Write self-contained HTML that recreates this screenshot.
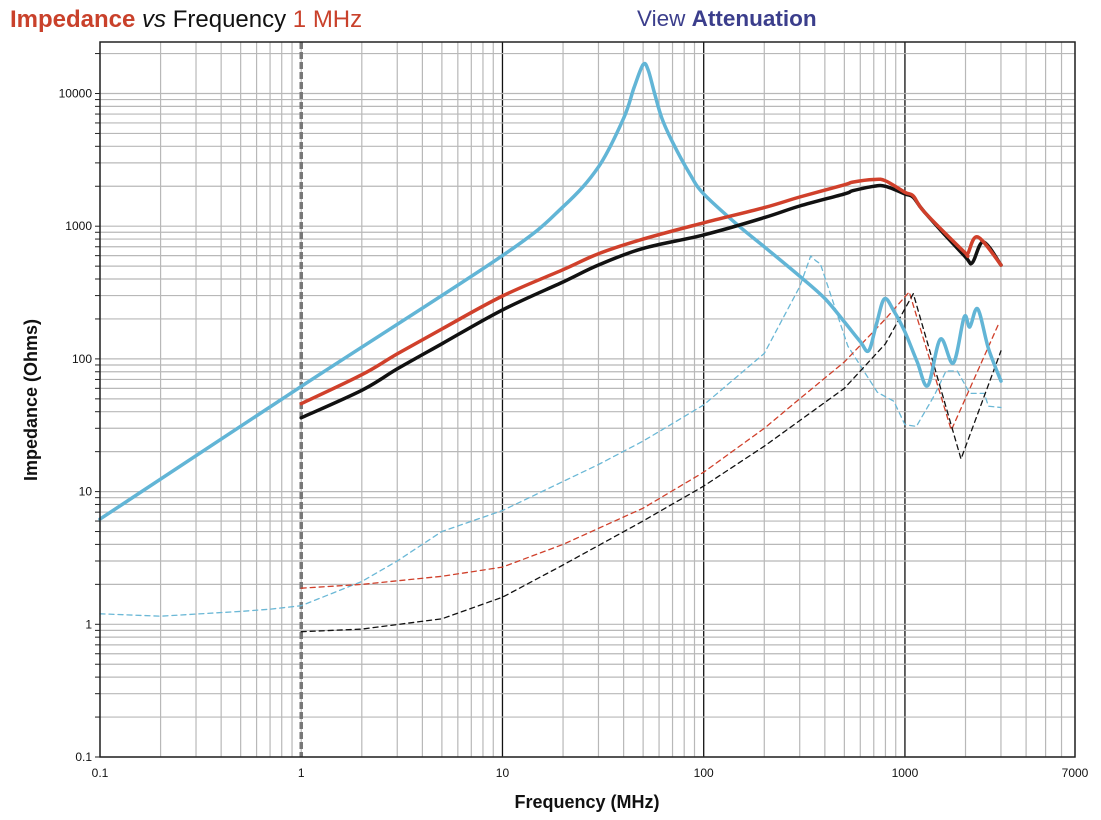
<!DOCTYPE html>
<html><head><meta charset="utf-8"><style>
body{margin:0;background:#fff;width:1101px;height:820px;overflow:hidden;font-family:"Liberation Sans",sans-serif}
svg{position:absolute;left:0;top:0}
</style></head><body>
<svg id="chart" width="1101" height="820">
<text x="10" y="27" font-size="24"><tspan fill="#c9412b" font-weight="bold">Impedance</tspan><tspan fill="#111" font-style="italic"> vs</tspan><tspan fill="#111"> Frequency </tspan><tspan fill="#c9412b">1 MHz</tspan></text>
<text x="637" y="26" font-size="22.5" fill="#3b3e8c">View <tspan font-weight="bold">Attenuation</tspan></text>
<g id="grid"></g>
<g id="series"></g>
<rect x="100" y="42" width="975" height="715" fill="none" stroke="#222" stroke-width="1.5"/>
<g id="labels" font-size="12" fill="#111"></g>
<text x="587" y="808" font-size="18" font-weight="bold" text-anchor="middle" fill="#111">Frequency (MHz)</text>
<text transform="translate(37,400) rotate(-90)" font-size="18" font-weight="bold" text-anchor="middle" fill="#111">Impedance (Ohms)</text>
</svg>
<script>
const xTicks=[0.1,1,10,100,1000,7000];
const xTickLabels=["0.1","1","10","100","1000","7000"];
const yTicks=[0.1,1,10,100,1000,10000];
const yTickLabels=["0.1","1","10","100","1000","10000"];
const blueSolidF=[0.1,1,10,20,30,40,45,50,53,57,62,70,85,100,150,200,300,400,500,600,660,720,790,880,1000,1150,1300,1500,1740,1970,2100,2300,2600,3000];
const blueSolidV=[6.2,62,600,1400,2800,6500,11000,16500,15000,10000,6500,4300,2500,1750,1000,700,420,285,190,135,115,180,283,230,160,95,63,141,93,207,174,238,120,68];
const redSolidF=[1,2,3,5,10,20,30,50,100,200,300,500,550,700,800,1000,1100,1250,1970,2050,2300,3000];
const redSolidV=[46,76,109,168,298,470,620,800,1060,1380,1660,2050,2150,2250,2200,1800,1690,1280,640,620,830,510];
const blackSolidF=[1,2,3,5,10,20,30,50,100,200,300,500,550,700,800,1000,1100,1250,1970,2160,2450,3000];
const blackSolidV=[36,58,84,130,234,380,510,680,860,1160,1420,1750,1850,2000,2000,1750,1650,1280,600,530,760,510];
const blueDashF=[0.1,0.2,0.5,0.7,1,2,3,5,10,30,50,100,200,300,340,360,380,520,730,880,1000,1140,1400,1600,1820,2100,2480,2600,3000];
const blueDashV=[1.2,1.15,1.25,1.3,1.38,2.1,3,5,7.2,16,24,45,110,350,596,550,520,125,56,48,32,31,53,81,81,55,55,44,43];
const redDashF=[1,2,5,10,20,50,100,200,300,500,800,1050,1700,2950];
const redDashV=[1.87,2,2.3,2.7,4,7.5,14,30,50,95,200,320,29,190];
const blackDashF=[1,2,5,10,20,50,100,200,500,800,1100,1900,3000];
const blackDashV=[0.88,0.92,1.1,1.6,2.8,6,11,22,60,130,310,17.6,115];

const X0=100,X1=1075,Y0=42,Y1=757;
const lx0=Math.log10(0.1),lx1=Math.log10(7000);
const DEC=(X1-X0)/(lx1-lx0);
function xs(f){return X0+(Math.log10(f)-lx0)*DEC;}
const YDEC=132.7;
function ys(v){return 757-(Math.log10(v)+1)*YDEC;}
const NS="http://www.w3.org/2000/svg";
function mk(tag,attrs,parent){const e=document.createElementNS(NS,tag);for(const k in attrs)e.setAttribute(k,attrs[k]);parent.appendChild(e);return e;}
const grid=document.getElementById('grid'),labels=document.getElementById('labels'),series=document.getElementById('series');
for(let d=-1;d<=3;d++){for(let m=1;m<=9;m++){const f=m*Math.pow(10,d);if(f>7000)break;const x=xs(f);
 let col="#b8b8b8",w=1.2;
 if(m===1&&d>=1){col="#111";w=1.3;}
 const l=mk('line',{x1:x,x2:x,y1:Y0,y2:Y1,stroke:col,'stroke-width':w},grid);
 
 }}
for(let d=-1;d<=4;d++){for(let m=1;m<=9;m++){const v=m*Math.pow(10,d);const y=ys(v);if(y<Y0)break;
 const l=mk('line',{x1:X0,x2:X1,y1:y,y2:y,stroke:"#b8b8b8",'stroke-width':1.2},grid);
 
 
 const t=mk('line',{x1:X0-5,x2:X0,y1:y,y2:y,stroke:"#222",'stroke-width':1},grid);
 
 }}
const mkr=mk('line',{x1:xs(1),x2:xs(1),y1:Y0,y2:Y1,stroke:"#777",'stroke-width':3.5,'stroke-dasharray':'7,3'},grid);


xTicks.forEach((f,i)=>{const t=mk('text',{x:xs(f),y:777,'text-anchor':'middle'},labels);t.textContent=xTickLabels[i];
 
 });
yTicks.forEach((v,i)=>{const t=mk('text',{x:92,y:ys(v)+4,'text-anchor':'end'},labels);t.textContent=yTickLabels[i];
 
 });
function path(F,V,smooth){
 const P=F.map((f,i)=>[xs(f),ys(V[i])]);
 let d="M"+P[0][0].toFixed(1)+","+P[0][1].toFixed(1);
 for(let i=0;i<P.length-1;i++){
  if(!smooth){d+="L"+P[i+1][0].toFixed(1)+","+P[i+1][1].toFixed(1);continue;}
  const p0=P[Math.max(0,i-1)],p1=P[i],p2=P[i+1],p3=P[Math.min(P.length-1,i+2)];
  const t=6;
  const c1=[p1[0]+(p2[0]-p0[0])/t,p1[1]+(p2[1]-p0[1])/t];
  const c2=[p2[0]-(p3[0]-p1[0])/t,p2[1]-(p3[1]-p1[1])/t];
  d+="C"+c1[0].toFixed(1)+","+c1[1].toFixed(1)+" "+c2[0].toFixed(1)+","+c2[1].toFixed(1)+" "+p2[0].toFixed(1)+","+p2[1].toFixed(1);
 }
 return d;}
const defs=[
 [blueDashF,blueDashV,"#6bb8d6",1.3,"5,4","blue-dashed-series",false],
 [redDashF,redDashV,"#d0402b",1.3,"5,4","red-dashed-series",false],
 [blackDashF,blackDashV,"#111",1.3,"5,4","black-dashed-series",false],
 [blueSolidF,blueSolidV,"#62b5d6",3.5,"","blue-solid-series",true],
 [blackSolidF,blackSolidV,"#111",3.5,"","black-solid-series",true],
 [redSolidF,redSolidV,"#d0402b",3.5,"","red-solid-series",true]];
defs.forEach(s=>{const p=mk('path',{d:path(s[0],s[1],s[6]),fill:"none",stroke:s[2],'stroke-width':s[3],'stroke-linejoin':'round','stroke-linecap':'round'},series);
 if(s[4])p.setAttribute('stroke-dasharray',s[4]);
 
 });
</script>
</body></html>
